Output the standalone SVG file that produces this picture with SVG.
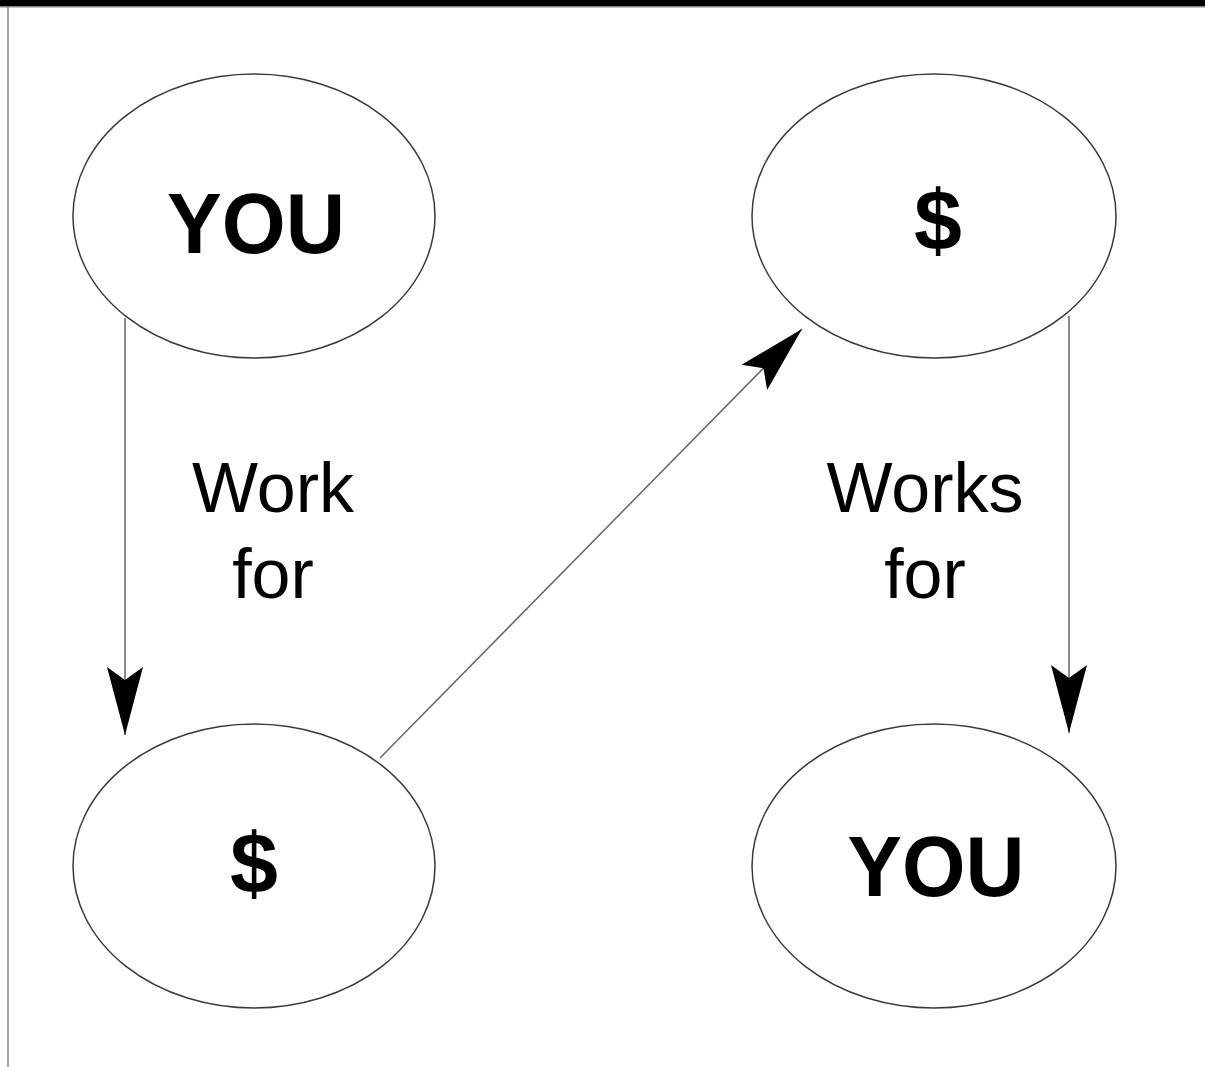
<svg xmlns="http://www.w3.org/2000/svg" width="1205" height="1067" viewBox="0 0 1205 1067">
  <style>
    .node { fill: #ffffff; stroke: #3a3a3a; stroke-width: 1.5; }
    .big { font-family: "Liberation Sans", Arial, sans-serif; font-weight: bold; font-size: 86px; fill: #000; text-anchor: middle; }
    .lbl { font-family: "Liberation Sans", Arial, sans-serif; font-size: 70px; fill: #000; text-anchor: middle; }
    .conn { stroke: #666666; stroke-width: 1.5; fill: none; marker-end: url(#head); }
  </style>
  <defs>
    <marker id="head" markerUnits="userSpaceOnUse" orient="auto" viewBox="-70 -20 72 40" refX="0" refY="0" markerWidth="72" markerHeight="40">
      <path d="M0,0 L-68,-18 L-55,0 L-68,18 Z" fill="#000"/>
    </marker>
  </defs>
  <rect x="0" y="0" width="1205" height="6.5" fill="#000"/>
  <line x1="0" y1="7" x2="1205" y2="7" stroke="#888" stroke-width="1"/>
  <line x1="8" y1="7" x2="8" y2="1067" stroke="#888" stroke-width="1.5"/>

  <g id="connectors">
    <line class="conn" x1="125" y1="318" x2="125" y2="735"/>
    <line class="conn" x1="380" y1="758" x2="802" y2="329"/>
    <line class="conn" x1="1069" y1="316" x2="1069" y2="733"/>
  </g>

  <g id="you-top">
    <ellipse class="node" cx="254" cy="216" rx="181" ry="142"/>
    <text class="big" x="256" y="253" textLength="178" lengthAdjust="spacingAndGlyphs">YOU</text>
  </g>
  <g id="dollar-top">
    <ellipse class="node" cx="934" cy="216" rx="182" ry="142"/>
    <text class="big" x="938" y="250">$</text>
  </g>
  <g id="dollar-bottom">
    <ellipse class="node" cx="254" cy="866" rx="181" ry="142"/>
    <text class="big" x="254" y="893">$</text>
  </g>
  <g id="you-bottom">
    <ellipse class="node" cx="934" cy="866" rx="182" ry="142"/>
    <text class="big" x="936" y="896" textLength="177" lengthAdjust="spacingAndGlyphs">YOU</text>
  </g>

  <g id="labels">
    <text class="lbl" x="273" y="512">Work</text>
    <text class="lbl" x="273" y="598">for</text>
    <text class="lbl" x="925" y="512">Works</text>
    <text class="lbl" x="925" y="598">for</text>
  </g>
</svg>
